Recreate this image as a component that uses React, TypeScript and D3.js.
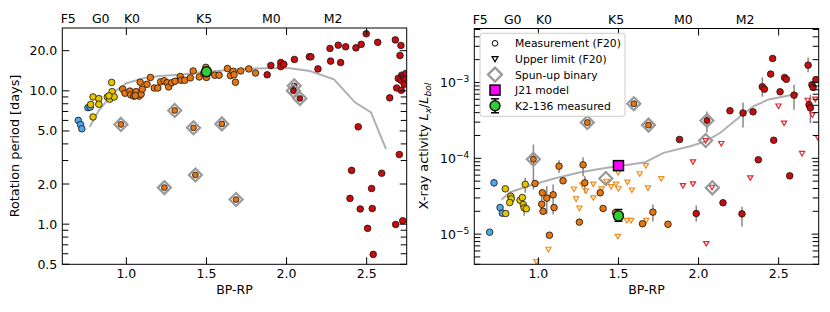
import { useEffect, useRef } from "react";
import * as d3 from "d3";

// [bp-rp, value, errLow?, errHigh?]
type Pt = [number, number, number?, number?];

const SPT_LABELS = ["F5", "G0", "K0", "K5", "M0", "M2"];
const SPT_BP = [0.637, 0.84, 1.035, 1.485, 1.905, 2.29];

const BP_TICKS = [1.0, 1.5, 2.0, 2.5];
const PROT_TICKS = [0.5, 1, 2, 5, 10, 20];
const PROT_MINOR = [0.6, 0.7, 0.8, 0.9, 3, 4, 6, 7, 8, 9];
const LX_TICK_EXP = [-5, -4, -3];

// ---- left panel: rotation periods ----
const rotBlue: Pt[] = [[0.70, 6.0], [0.714, 5.58], [0.722, 5.19], [0.76, 7.48], [0.774, 7.55]];
const rotYellow: Pt[] = [
  [0.777, 7.9], [0.792, 6.37], [0.792, 9.0], [0.828, 8.74], [0.828, 7.93], [0.881, 9.0],
  [0.896, 8.66], [0.908, 11.56], [0.911, 9.86], [0.924, 9.0], [0.891, 9.17],
];
const rotOrange: Pt[] = [
  [0.977, 10.3], [0.991, 9.6], [1.022, 9.95], [1.027, 9.33], [1.046, 9.13], [1.061, 9.86],
  [1.079, 9.13], [1.092, 9.44], [1.099, 10.3], [1.086, 11.6], [1.129, 11.2], [1.15, 12.6],
  [1.174, 10.5], [1.196, 10.5], [1.214, 11.7], [1.236, 11.9], [1.255, 11.5], [1.264, 10.7],
  [1.283, 11.5], [1.304, 11.8], [1.336, 12.8], [1.342, 12.0], [1.364, 12.0], [1.399, 12.5],
  [1.417, 14.1], [1.455, 12.7], [1.483, 13.5], [1.496, 15.0], [1.5, 12.6], [1.552, 13.1],
  [1.579, 13.1], [1.631, 14.7], [1.65, 13.0], [1.666, 14.0], [1.672, 13.2], [1.681, 11.6],
  [1.714, 14.1], [1.764, 14.6], [1.806, 13.6], [1.056, 9.2],
];
const rotRed: Pt[] = [
  [1.902, 15.5], [1.879, 13.2], [1.964, 16.3], [1.964, 15.2], [1.983, 15.8], [2.049, 17.2],
  [2.1425, 18.0], [2.152, 18.0], [2.196, 14.6], [2.271, 20.8], [2.3225, 22.0], [2.369, 21.4],
  [2.433, 21.0], [2.466, 22.3], [2.4975, 26.8], [2.569, 23.1], [2.275, 16.7], [2.3375, 16.3],
  [2.679, 24.1], [2.714, 21.9], [2.708, 18.4], [2.719, 13.1], [2.6975, 12.4], [2.714, 12.0],
  [2.73, 12.7], [2.6875, 10.5], [2.716, 10.1], [2.644, 8.86], [2.4475, 5.37], [2.704, 3.33],
  [2.406, 2.53], [2.594, 2.41], [2.531, 1.85], [2.396, 1.56], [2.46, 1.30], [2.535, 1.31],
  [2.506, 0.93], [2.681, 0.995], [2.725, 1.06], [2.541, 0.593], [2.74, 12.3], [2.745, 13.5],
  [2.735, 11.2],
];
const rotBinaryOrange: Pt[] = [
  [0.966, 5.6], [1.302, 7.13], [1.419, 5.28], [1.596, 5.65], [1.2375, 1.88], [1.431, 2.34], [1.685, 1.53],
];
const rotBinaryRed: Pt[] = [[2.048, 10.9], [2.0425, 10.0], [2.083, 8.77]];
const rotModel: Pt[] = [
  [0.771, 5.37], [0.827, 7.08], [0.877, 8.41], [0.939, 10.1], [1.002, 11.4], [1.102, 12.4],
  [1.208, 12.9], [1.333, 13.2], [1.489, 13.9], [1.56, 14.1], [1.708, 14.6], [1.877, 14.8],
  [2.021, 14.8], [2.146, 14.1], [2.296, 12.2], [2.427, 8.2], [2.527, 6.9], [2.621, 3.65],
];
const rotK2136: Pt[] = [[1.5, 13.9, 13.1, 14.7]];

// ---- right panel: X-ray activity ----
const lxBlue: Pt[] = [[0.723, 4.75e-5, 4.2e-5, 5.3e-5], [0.761, 2.24e-5], [0.775, 1.89e-5], [0.696, 1.06e-5]];
const lxYellow: Pt[] = [
  [0.794, 3.96e-5], [0.8275, 3.16e-5], [0.831, 2.92e-5], [0.821, 2.61e-5], [0.796, 1.87e-5],
  [0.886, 2.8e-5], [0.9, 3.04e-5], [0.906, 2.45e-5], [0.911, 2.22e-5, 1.75e-5, 2.4e-5],
  [0.925, 2.16e-5], [0.918, 4.54e-5, 3.51e-5, 5.53e-5],
];
const lxOrange: Pt[] = [
  [0.979, 4.65e-5], [1.025, 3.51e-5], [1.021, 2.48e-5, 1.81e-5, 3.87e-5], [1.029, 2.0e-5],
  [1.0525, 2.98e-5, 1.81e-5, 4.28e-5], [1.092, 3.3e-5, 1.81e-5, 4.51e-5], [1.098, 2.24e-5],
  [1.069, 9.67e-6], [1.129, 7.87e-5, 6.44e-5, 9.44e-5], [1.154, 5.05e-5],
  [1.279, 8.2e-5, 5.81e-5, 1.03e-4], [1.29, 4.75e-5, 3.51e-5, 5.81e-5], [1.256, 1.44e-5],
  [1.386, 3.51e-5], [1.404, 2.18e-5], [1.481, 1.91e-5], [1.65, 1.37e-5],
  [1.715, 1.95e-5, 1.47e-5, 2.45e-5], [1.809, 1.35e-5],
];
const lxRed: Pt[] = [
  [1.881, 1.77e-4], [2.196, 4.24e-4], [2.2775, 3.96e-4, 2.55e-4, 5.44e-4], [2.34, 4.1e-4],
  [2.398, 8.77e-4, 6.5e-4, 1.16e-3], [2.411, 8.16e-4], [2.45, 1.29e-3], [2.4625, 2.07e-3],
  [2.509, 7.54e-4], [2.537, 1.16e-3], [2.548, 1.1e-3], [2.596, 6.8e-4, 4.37e-4, 9.33e-4],
  [2.469, 1.73e-4], [2.684, 1.69e-3, 1.36e-3, 2.14e-3], [2.7075, 9.33e-4], [2.7325, 1.09e-3],
  [2.715, 8.59e-4], [2.69, 5.08e-4], [2.698, 4.61e-4, 2.9e-4, 6.9e-4], [2.373, 9.55e-5],
  [2.569, 5.87e-5], [2.1525, 2.59e-5], [1.9856, 1.87e-5, 1.47e-5, 2.38e-5],
  [2.271, 1.85e-5, 1.26e-5, 2.3e-5],
];
const lxLimOrange: Pt[] = [
  [0.9875, 4.35e-6], [1.0625, 6.33e-6], [1.222, 3.94e-5], [1.236, 2.92e-5], [1.256, 2.2e-5],
  [1.274, 4.47e-5], [1.297, 3.72e-5], [1.343, 3.02e-5], [1.343, 4.58e-5], [1.395, 3.96e-5],
  [1.425, 4.99e-5], [1.454, 4.25e-5], [1.484, 4.58e-5], [1.5, 3.97e-5], [1.498, 6.5e-5],
  [1.556, 4.87e-5], [1.584, 3.82e-5], [1.6325, 6.26e-5], [1.671, 8.03e-5], [1.684, 4.08e-5],
  [1.767, 5.42e-5], [1.496, 9.38e-6], [1.5525, 1.52e-5], [1.579, 1.52e-5], [1.673, 1.52e-5],
];
const lxLimRed: Pt[] = [
  [1.965, 8.99e-5], [1.9025, 4.38e-5], [1.965, 4.61e-5], [2.084, 4.16e-5], [2.323, 5.53e-5],
  [2.646, 1.16e-4], [2.048, 7.52e-6], [2.044, 1.72e-4], [2.142, 1.57e-4], [2.499, 4.9e-4],
  [2.534, 2.92e-4], [2.681, 5.84e-4], [2.711, 3.75e-4], [2.729, 6.03e-4], [2.745, 1.88e-4],
];
const lxBinaryOrange: Pt[] = [
  [0.969, 9.73e-5, 3.87e-5, 1.52e-4], [1.306, 2.96e-4], [1.596, 5.24e-4], [1.6875, 2.74e-4],
];
const lxBinaryRed: Pt[] = [[2.0525, 3.15e-4, 2.19e-4, 4.14e-4]];
const lxBinaryLimit: Pt[] = [[1.421, 5.42e-5], [2.044, 1.72e-4], [2.086, 4.08e-5]];
const lxModel: Pt[] = [
  [0.771, 2.86e-5], [0.823, 3.57e-5], [0.948, 4.38e-5], [1.094, 5.37e-5], [1.261, 6.56e-5],
  [1.4275, 7.5e-5], [1.573, 8.28e-5], [1.667, 8.89e-5], [1.781, 1.18e-4], [1.948, 1.445e-4],
  [2.044, 1.67e-4], [2.136, 2.17e-4], [2.261, 3.59e-4], [2.344, 4.87e-4], [2.4375, 5.97e-4],
  [2.594, 6.95e-4], [2.625, 7.16e-4],
];
const lxJ21: Pt[] = [[1.5, 8.0e-5]];
const lxK2136: Pt[] = [[1.5, 1.74e-5, 1.48e-5, 2.11e-5]];

const LEGEND = ["Measurement (F20)", "Upper limit (F20)", "Spun-up binary", "J21 model", "K2-136 measured"];

const BLUE = "#52a7e6";
const YELLOW = "#e5c400";
const ORANGE = "#e8760e";
const RED = "#c80d0d";
const LIM_ORANGE = "#f28c1e";
const LIM_RED = "#e3262a";
const FONT = "DejaVu Sans, sans-serif";

type G = d3.Selection<SVGGElement, unknown, null, undefined>;

function circ(g: G, px: number, py: number, r: number, fill: string, sw = 0.8) {
  g.append("circle").attr("cx", px).attr("cy", py).attr("r", r)
    .attr("fill", fill).attr("stroke", "#111").attr("stroke-width", sw);
}
function tri(g: G, px: number, py: number, color: string, s = 2.6) {
  g.append("path")
    .attr("d", `M${px - s},${py - s * 0.75}L${px + s},${py - s * 0.75}L${px},${py + s}Z`)
    .attr("fill", "none").attr("stroke", color).attr("stroke-width", 1.2);
}
function diamond(g: G, px: number, py: number, h = 6.5) {
  g.append("path")
    .attr("d", `M${px},${py - h}L${px + h},${py}L${px},${py + h}L${px - h},${py}Z`)
    .attr("fill", "none").attr("stroke", "#999").attr("stroke-width", 2.2);
}
function vline(g: G, px: number, y1: number, y2: number, color = "#888", w = 1.5) {
  g.append("line").attr("x1", px).attr("x2", px).attr("y1", y1).attr("y2", y2)
    .attr("stroke", color).attr("stroke-width", w);
}

function frame(
  g: G,
  x: d3.ScaleLinear<number, number>,
  y: d3.ScaleLogarithmic<number, number>,
  major: number[],
  minor: number[],
  label: (t: d3.Selection<SVGTextElement, unknown, null, undefined>, v: number) => void
) {
  const [xa, xb] = x.range();
  const [yb, ya] = y.range();
  const tick = (x1: number, y1: number, x2: number, y2: number) =>
    g.append("line").attr("x1", x1).attr("y1", y1).attr("x2", x2).attr("y2", y2)
      .attr("stroke", "#000").attr("stroke-width", 1);
  BP_TICKS.forEach((t) => {
    const px = x(t);
    tick(px, yb, px, yb - 7);
    tick(px, ya, px, ya + 7);
    g.append("text").attr("x", px).attr("y", yb + 13.3).attr("text-anchor", "middle")
      .attr("font-size", 12.5).text(t.toFixed(1));
  });
  major.forEach((v) => {
    const py = y(v);
    tick(xa, py, xa + 7, py);
    tick(xb, py, xb - 7, py);
    const t = g.append("text").attr("x", xa - 5).attr("y", py + 4.5)
      .attr("text-anchor", "end").attr("font-size", 12.5);
    label(t, v);
  });
  minor.forEach((v) => {
    const py = y(v);
    if (py < ya - 0.5 || py > yb + 0.5) return;
    tick(xa, py, xa + 6, py);
    tick(xb, py, xb - 6, py);
  });
  SPT_LABELS.forEach((s, i) => {
    g.append("text").attr("x", x(SPT_BP[i])).attr("y", ya - 5).attr("text-anchor", "middle")
      .attr("font-size", 12.5).text(s);
  });
  g.append("text").attr("x", (xa + xb) / 2).attr("y", yb + 30).attr("text-anchor", "middle")
    .attr("font-size", 12.5).text("BP-RP");
  g.append("rect").attr("x", xa).attr("y", ya).attr("width", xb - xa).attr("height", yb - ya)
    .attr("fill", "none").attr("stroke", "#000").attr("stroke-width", 1);
}

export default function App() {
  const ref = useRef<SVGSVGElement>(null);

  useEffect(() => {
    if (!ref.current) return;
    const svg = d3.select(ref.current);
    svg.selectAll("*").remove();
    const root = svg.append("g").attr("font-family", FONT).attr("fill", "#000") as G;
    const defs = svg.append("defs");

    // ---------- left panel ----------
    const xL = d3.scaleLinear().domain([0.6, 2.75]).range([62.3, 406.7]);
    const yL = d3.scaleLog().domain([0.5, 29.6]).range([264.3, 28]);
    defs.append("clipPath").attr("id", "clipL").append("rect")
      .attr("x", 62.3).attr("y", 28).attr("width", 406.7 - 62.3).attr("height", 264.3 - 28);
    const gL = root.append("g").attr("clip-path", "url(#clipL)") as G;

    gL.append("path")
      .attr("d", d3.line<Pt>().x((d) => xL(d[0])).y((d) => yL(d[1]))(rotModel) ?? "")
      .attr("fill", "none").attr("stroke", "#b0b0b0").attr("stroke-width", 2);

    const groupsL: [Pt[], string][] = [[rotBlue, BLUE], [rotYellow, YELLOW], [rotOrange, ORANGE], [rotRed, RED]];
    groupsL.forEach(([arr, c]) => arr.forEach((d) => circ(gL, xL(d[0]), yL(d[1]), 3.3, c)));
    rotBinaryOrange.forEach((d) => { diamond(gL, xL(d[0]), yL(d[1])); circ(gL, xL(d[0]), yL(d[1]), 2.9, ORANGE); });
    rotBinaryRed.forEach((d) => { diamond(gL, xL(d[0]), yL(d[1])); circ(gL, xL(d[0]), yL(d[1]), 2.9, RED); });
    rotK2136.forEach((d) => {
      const px = xL(d[0]);
      vline(gL, px, yL(d[2]!), yL(d[3]!), "#000", 1.5);
      [d[2]!, d[3]!].forEach((v) => gL.append("line").attr("x1", px - 4).attr("x2", px + 4)
        .attr("y1", yL(v)).attr("y2", yL(v)).attr("stroke", "#000").attr("stroke-width", 1.5));
      circ(gL, px, yL(d[1]), 5, "#33cc33", 1.4);
    });

    frame(root, xL, yL, PROT_TICKS, PROT_MINOR, (t, v) => t.text(v.toFixed(1)));
    root.append("text").attr("transform", "translate(18.5,146) rotate(-90)")
      .attr("text-anchor", "middle").attr("font-size", 12.8).text("Rotation period [days]");

    // ---------- right panel ----------
    const xR = d3.scaleLinear().domain([0.6, 2.75]).range([474.3, 818.7]);
    const yR = d3.scaleLog().domain([4.0e-6, 5.15e-3]).range([264.3, 28.5]);
    defs.append("clipPath").attr("id", "clipR").append("rect")
      .attr("x", 474.3).attr("y", 28.5).attr("width", 818.7 - 474.3).attr("height", 264.3 - 28.5);
    const gR = root.append("g").attr("clip-path", "url(#clipR)") as G;

    gR.append("path")
      .attr("d", d3.line<Pt>().x((d) => xR(d[0])).y((d) => yR(d[1]))(lxModel) ?? "")
      .attr("fill", "none").attr("stroke", "#b0b0b0").attr("stroke-width", 2);

    const withErr = [lxBlue, lxYellow, lxOrange, lxRed, lxBinaryOrange, lxBinaryRed];
    withErr.forEach((arr) => arr.forEach((d) => {
      if (d[2] !== undefined) vline(gR, xR(d[0]), yR(d[2]!), yR(d[3]!));
    }));
    lxLimOrange.forEach((d) => tri(gR, xR(d[0]), yR(d[1]), LIM_ORANGE));
    lxLimRed.forEach((d) => tri(gR, xR(d[0]), yR(d[1]), LIM_RED));
    const groupsR: [Pt[], string][] = [[lxBlue, BLUE], [lxYellow, YELLOW], [lxOrange, ORANGE], [lxRed, RED]];
    groupsR.forEach(([arr, c]) => arr.forEach((d) => circ(gR, xR(d[0]), yR(d[1]), 3.3, c)));
    lxBinaryOrange.forEach((d) => { diamond(gR, xR(d[0]), yR(d[1])); circ(gR, xR(d[0]), yR(d[1]), 3, ORANGE); });
    lxBinaryRed.forEach((d) => { diamond(gR, xR(d[0]), yR(d[1])); circ(gR, xR(d[0]), yR(d[1]), 3, RED); });
    lxBinaryLimit.forEach((d) => diamond(gR, xR(d[0]), yR(d[1])));
    lxJ21.forEach((d) => {
      gR.append("rect").attr("x", xR(d[0]) - 5).attr("y", yR(d[1]) - 5).attr("width", 10).attr("height", 10)
        .attr("fill", "#ff00ff").attr("stroke", "#000").attr("stroke-width", 1.5);
    });
    lxK2136.forEach((d) => {
      const px = xR(d[0]);
      vline(gR, px, yR(d[2]!), yR(d[3]!), "#000", 1.5);
      [d[2]!, d[3]!].forEach((v) => gR.append("line").attr("x1", px - 4).attr("x2", px + 4)
        .attr("y1", yR(v)).attr("y2", yR(v)).attr("stroke", "#000").attr("stroke-width", 1.5));
      circ(gR, px, yR(d[1]), 5, "#33cc33", 1.4);
    });

    const lxMinor: number[] = [];
    for (let e = -6; e <= -3; e++) for (let m = 2; m <= 9; m++) lxMinor.push(m * Math.pow(10, e));
    frame(root, xR, yR, LX_TICK_EXP.map((e) => Math.pow(10, e)), lxMinor, (t, v) => {
      const e = Math.round(Math.log10(v));
      t.append("tspan").text("10");
      t.append("tspan").attr("dy", -5).attr("font-size", 9).text(`\u2212${-e}`);
    });
    const yl = root.append("text").attr("transform", "translate(428,146) rotate(-90)")
      .attr("text-anchor", "middle").attr("font-size", 12.8);
    yl.append("tspan").text("X-ray activity ");
    yl.append("tspan").attr("font-style", "italic").text("L");
    yl.append("tspan").attr("font-style", "italic").attr("font-size", 9).attr("dy", 3).text("x");
    yl.append("tspan").attr("dy", -3).text("/");
    yl.append("tspan").attr("font-style", "italic").text("L");
    yl.append("tspan").attr("font-style", "italic").attr("font-size", 9).attr("dy", 3).text("bol");

    // ---------- legend ----------
    const lg = root.append("g") as G;
    lg.append("rect").attr("x", 480).attr("y", 33.3).attr("width", 145).attr("height", 83).attr("rx", 2.5)
      .attr("fill", "#fff").attr("fill-opacity", 0.8).attr("stroke", "#cccccc").attr("stroke-width", 1);
    const ly = [43.3, 58.8, 74.6, 90.1, 105.8];
    const mx = 495;
    lg.append("circle").attr("cx", mx).attr("cy", ly[0]).attr("r", 2.8).attr("fill", "none").attr("stroke", "#000").attr("stroke-width", 1);
    tri(lg, mx, ly[1], "#000", 3);
    diamond(lg, mx, ly[2], 7);
    lg.append("rect").attr("x", mx - 5).attr("y", ly[3] - 5).attr("width", 10).attr("height", 10)
      .attr("fill", "#ff00ff").attr("stroke", "#000").attr("stroke-width", 1.5);
    vline(lg, mx, ly[4] - 7, ly[4] + 7, "#000", 1.5);
    [ly[4] - 7, ly[4] + 7].forEach((v) => lg.append("line").attr("x1", mx - 4).attr("x2", mx + 4)
      .attr("y1", v).attr("y2", v).attr("stroke", "#000").attr("stroke-width", 1.5));
    circ(lg, mx, ly[4], 5, "#33cc33", 1.4);
    LEGEND.forEach((s, i) => {
      lg.append("text").attr("x", 515).attr("y", ly[i] + 4).attr("font-size", 10.8).text(s);
    });
  }, []);

  return (
    <svg
      ref={ref}
      width={830}
      height={312}
      style={{ position: "absolute", left: 0, top: 0, background: "#fff" }}
    />
  );
}
